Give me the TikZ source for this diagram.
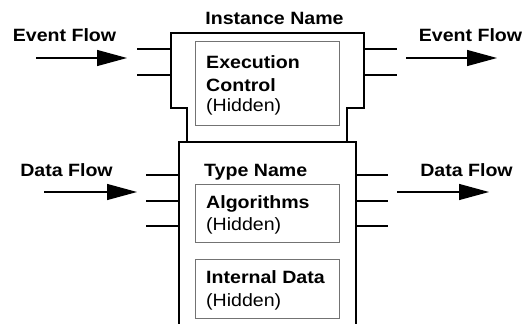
\documentclass[tikz,border=0pt]{standalone}
\usepackage{fontspec}
\setmainfont{Liberation Sans}
\usepackage{graphicx}
\usetikzlibrary{arrows.meta}
\newcommand\hs[1]{\scalebox{1.1}[1]{#1}}
\begin{document}
\begin{tikzpicture}[x=1pt,y=-1pt,
  outline/.style={line width=1.3pt, line join=miter},
  pinline/.style={line width=1.2pt},
  innerbox/.style={draw=black!55, line width=1pt, inner sep=0pt},
  flow/.style={line width=1.2pt, -{Triangle[length=30pt,width=16pt]}},
  lbl/.style={font=\fontsize{17.8}{20}\selectfont\bfseries, inner sep=0pt, anchor=base},
  blbl/.style={font=\fontsize{17.8}{20}\selectfont\bfseries, inner sep=0pt, anchor=base west},
  txt/.style={font=\fontsize{17.8}{20}\selectfont, inner sep=0pt, anchor=base west}]
\useasboundingbox (0,0) rectangle (523,324);

% outlines
\draw[outline] (187,142) -- (187,108) -- (171,108) -- (171,33) -- (364,33) -- (364,108) -- (347,108) -- (347,142);
\draw[outline] (179,324) -- (179,142) -- (356,142) -- (356,324);

% inner boxes
\node[innerbox, minimum width=144pt, minimum height=84pt] (exec) at (267,83) {};
\node[innerbox, minimum width=144pt, minimum height=58pt] (alg) at (267,213) {};
\node[innerbox, minimum width=144pt, minimum height=59pt] (data) at (267,288.5) {};

% texts
\node[lbl] (inst) at (274.5,24) {\hs{Instance Name}};
\node[lbl] (evl) at (64.5,41.5) {\hs{Event Flow}};
\node[lbl] (evr) at (470.5,41.5) {\hs{Event Flow}};
\node[lbl] (dfl) at (66.5,176) {\hs{Data Flow}};
\node[lbl] (dfr) at (466.5,176) {\hs{Data Flow}};
\node[blbl] (t1) at (206,68.3) {\hs{Execution}};
\node[blbl] (t2) at (206,91.7) {\hs{Control}};
\node[txt] (t3) at (206,111.5) {\hs{(Hidden)}};
\node[blbl] (tn) at (204,176) {\hs{Type Name}};
\node[blbl] (t4) at (206,208.3) {\hs{Algorithms}};
\node[txt] (t5) at (206,230) {\hs{(Hidden)}};
\node[blbl] (t6) at (206,283.3) {\hs{Internal Data}};
\node[txt] (t7) at (206,306) {\hs{(Hidden)}};

% pins
\foreach \y in {49,75} {
  \draw[pinline] (137,\y) -- (171,\y);
  \draw[pinline] (364,\y) -- (397,\y);
}
\foreach \y in {175,201,226} {
  \draw[pinline] (146,\y) -- (179,\y);
  \draw[pinline] (356,\y) -- (388,\y);
}

% flow arrows
\coordinate (a1s) at (36,58);  \coordinate (a1e) at (127,58);
\coordinate (a2s) at (406,58); \coordinate (a2e) at (497,58);
\coordinate (a3s) at (44,192); \coordinate (a3e) at (137,192);
\coordinate (a4s) at (397,192); \coordinate (a4e) at (489,192);
\draw[flow] (a1s) -- (a1e);
\draw[flow] (a2s) -- (a2e);
\draw[flow] (a3s) -- (a3e);
\draw[flow] (a4s) -- (a4e);
\end{tikzpicture}
\end{document}
